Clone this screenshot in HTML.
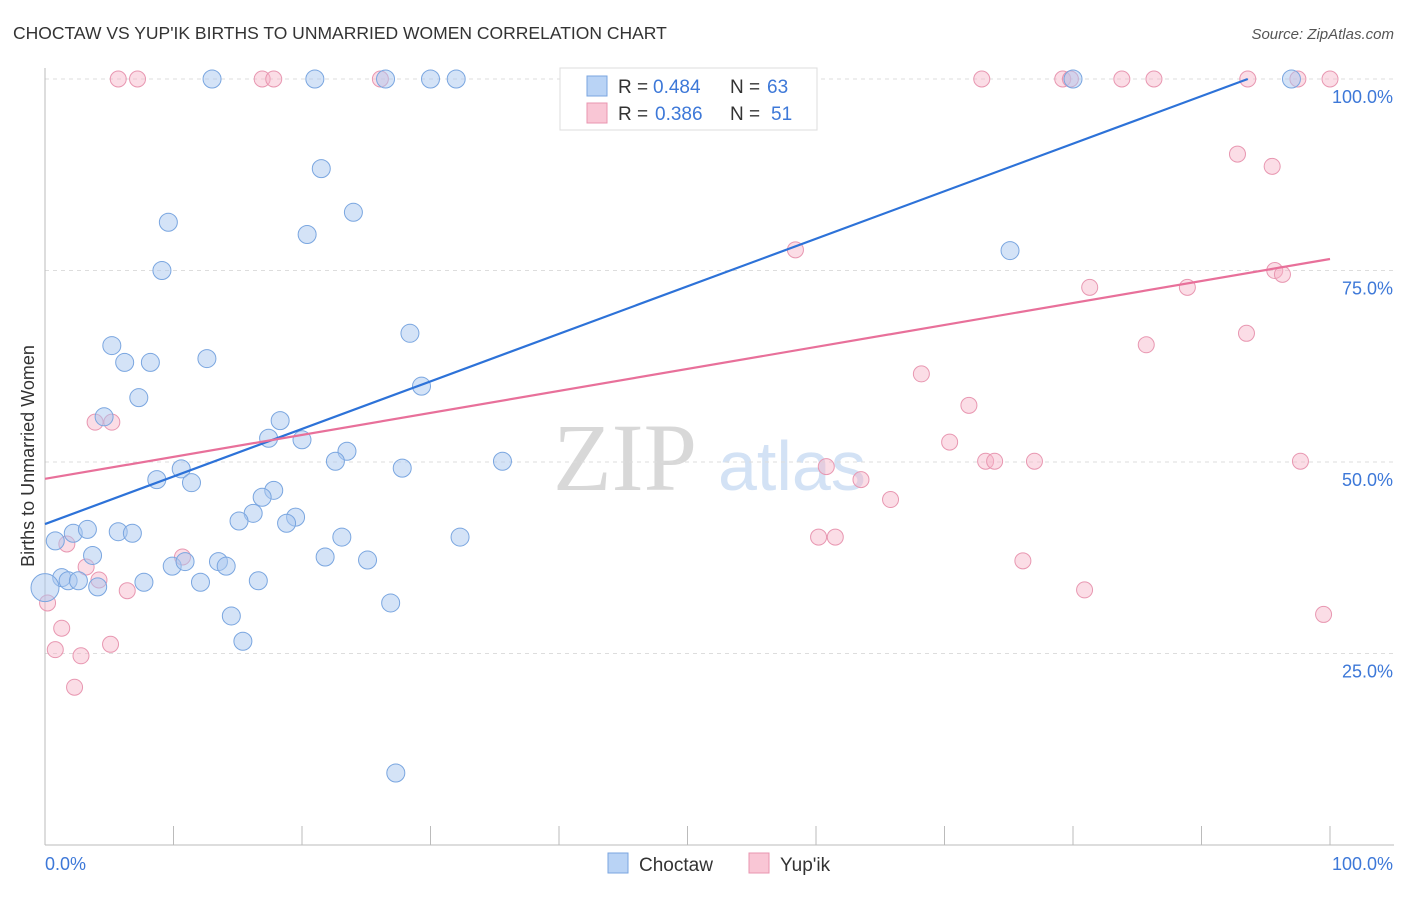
<!DOCTYPE html>
<html><head><meta charset="utf-8"><style>
body{margin:0;background:#fff;font-family:"Liberation Sans",sans-serif}
</style></head><body>
<svg id="chart" width="1406" height="892" xmlns="http://www.w3.org/2000/svg" style="font-family:'Liberation Sans',sans-serif">
<text x="13" y="39" font-size="17.5" fill="#333">CHOCTAW VS YUP'IK BIRTHS TO UNMARRIED WOMEN CORRELATION CHART</text>
<text x="1394" y="39" font-size="15" fill="#555" text-anchor="end" font-style="italic">Source: ZipAtlas.com</text>
<g>
<text x="553" y="490" font-family="'Liberation Serif',serif" font-size="96" fill="#d8d8d8">ZIP</text>
<text x="718" y="490" font-size="70" fill="#d3e2f5">atlas</text>
</g>
<g id="grid"></g>
<g id="axes"></g>
<g id="marks"></g>
<g>
<rect x="560" y="68" width="257" height="62" fill="#fff" stroke="#ddd"/>
<rect x="587" y="76" width="20" height="20" fill="#b9d3f5" stroke="#7aa6e0"/>
<text x="618" y="93" font-size="19" fill="#333">R =</text>
<text x="653" y="93" font-size="19" fill="#3d78d8">0.484</text>
<text x="730" y="93" font-size="19" fill="#333">N =</text>
<text x="767" y="93" font-size="19" fill="#3d78d8">63</text>
<rect x="587" y="103" width="20" height="20" fill="#f9c6d5" stroke="#e995b0"/>
<text x="618" y="120" font-size="19" fill="#333">R =</text>
<text x="655" y="120" font-size="19" fill="#3d78d8">0.386</text>
<text x="730" y="120" font-size="19" fill="#333">N =</text>
<text x="771" y="120" font-size="19" fill="#3d78d8">51</text>
</g>
<g>
<rect x="608" y="853" width="20" height="20" fill="#b9d3f5" stroke="#7aa6e0"/>
<text x="639" y="871" font-size="19" fill="#333">Choctaw</text>
<rect x="749" y="853" width="20" height="20" fill="#f9c6d5" stroke="#e995b0"/>
<text x="780" y="871" font-size="19" fill="#333">Yup'ik</text>
</g>
</svg>
<script>
const yTicks=[25,50,75,100];
const yTickLabels=["25.0%","50.0%","75.0%","100.0%"];
const xTickLabels=["0.0%","100.0%"];
const blueX=[13,21,26.5,30,32,80,97,21.5,24,9.6,20.4,9.1,75.1,5.2,6.2,8.2,12.6,28.4,7.3,29.3,4.6,18.3,17.4,20,23.5,22.6,35.6,10.6,27.8,8.7,11.4,17.8,16.9,16.2,15.1,19.5,18.8,23.1,32.3,0.8,2.2,3.3,5.7,6.8,3.7,13.5,14.1,9.9,10.9,21.8,25.1,1.3,1.8,2.6,4.1,7.7,12.1,16.6,26.9,14.5,15.4,27.3,0];
const blueY=[100,100,100,100,100,100,100,88.3,82.6,81.3,79.7,75,77.6,65.2,63,63,63.5,66.8,58.4,59.9,55.9,55.4,53.1,52.9,51.4,50.1,50.1,49.1,49.2,47.7,47.3,46.3,45.4,43.3,42.3,42.8,42,40.2,40.2,39.7,40.7,41.2,40.9,40.7,37.8,37,36.4,36.4,37,37.6,37.2,34.9,34.5,34.5,33.7,34.3,34.3,34.5,31.6,29.9,26.6,9.4,33.6];
const blueR=[9,9,9,9,9,9,9,9,9,9,9,9,9,9,9,9,9,9,9,9,9,9,9,9,9,9,9,9,9,9,9,9,9,9,9,9,9,9,9,9,9,9,9,9,9,9,9,9,9,9,9,9,9,9,9,9,9,9,9,9,9,9,14];
const pinkX=[5.7,7.2,16.9,17.8,26.1,55,72.9,79.2,79.8,83.8,86.3,93.6,97.5,100,92.8,95.5,58.4,95.7,96.3,81.3,88.9,85.7,93.5,68.2,71.9,70.4,3.9,5.2,60.8,63.5,65.8,73.2,73.9,77,97.7,1.7,10.7,3.2,4.2,6.4,60.2,61.5,76.1,80.9,99.5,0.2,1.3,0.8,2.8,5.1,2.3];
const pinkY=[100,100,100,100,100,100,100,100,100,100,100,100,100,100,90.2,88.6,77.7,75,74.5,72.8,72.8,65.3,66.8,61.5,57.4,52.6,55.2,55.2,49.4,47.7,45.1,50.1,50.1,50.1,50.1,39.3,37.6,36.3,34.6,33.2,40.2,40.2,37.1,33.3,30.1,31.6,28.3,25.5,24.7,26.2,20.6];
const lineBlue=[0,41.9,93.6,100];
const linePink=[0,47.8,100,76.5];
const X=v=>45+v*12.85, Y=v=>845-v*7.66;
const NS="http://www.w3.org/2000/svg";
function mk(t,a,p){const e=document.createElementNS(NS,t);for(const k in a)e.setAttribute(k,a[k]);p.appendChild(e);return e;}
const grid=document.getElementById('grid'),axes=document.getElementById('axes'),marks=document.getElementById('marks');
yTicks.forEach((t,i)=>{
 const l=mk('line',{x1:45,y1:Y(t),x2:1394,y2:Y(t),stroke:'#ddd','stroke-dasharray':'4,4'},grid);
 
 const tx=mk('text',{x:1393,y:Y(t)+24,'font-size':18,fill:'#3d78d8','text-anchor':'end'},axes);
 tx.textContent=yTickLabels[i];
 
});
mk('line',{x1:45,y1:68,x2:45,y2:845,stroke:'#bbb'},axes);
mk('line',{x1:45,y1:845,x2:1394,y2:845,stroke:'#bbb'},axes);
for(let i=0;i<=10;i++){mk('line',{x1:X(i*10),y1:826,x2:X(i*10),y2:845,stroke:'#bbb'},axes);}
let t1=mk('text',{x:45,y:870,'font-size':18,fill:'#3d78d8'},axes);t1.textContent=xTickLabels[0];

let t2=mk('text',{x:1393,y:870,'font-size':18,fill:'#3d78d8','text-anchor':'end'},axes);t2.textContent=xTickLabels[1];

let yt=mk('text',{x:34,y:456,'font-size':18,fill:'#333','text-anchor':'middle',transform:'rotate(-90 34 456)'},axes);yt.textContent='Births to Unmarried Women';

pinkX.forEach((v,i)=>{const c=mk('circle',{cx:X(v),cy:Y(pinkY[i]),r:8,fill:'rgba(246,180,200,0.45)',stroke:'#e897b1','stroke-width':1},marks);
 });
blueX.forEach((v,i)=>{const c=mk('circle',{cx:X(v),cy:Y(blueY[i]),r:blueR[i],fill:'rgba(170,200,240,0.5)',stroke:'#7aa6e0','stroke-width':1},marks);
 });
const lb=mk('line',{x1:X(lineBlue[0]),y1:Y(lineBlue[1]),x2:X(lineBlue[2]),y2:Y(lineBlue[3]),stroke:'#2d72d8','stroke-width':2.2},marks);

const lp=mk('line',{x1:X(linePink[0]),y1:Y(linePink[1]),x2:X(linePink[2]),y2:Y(linePink[3]),stroke:'#e8709a','stroke-width':2.2},marks);

</script>
</body></html>
